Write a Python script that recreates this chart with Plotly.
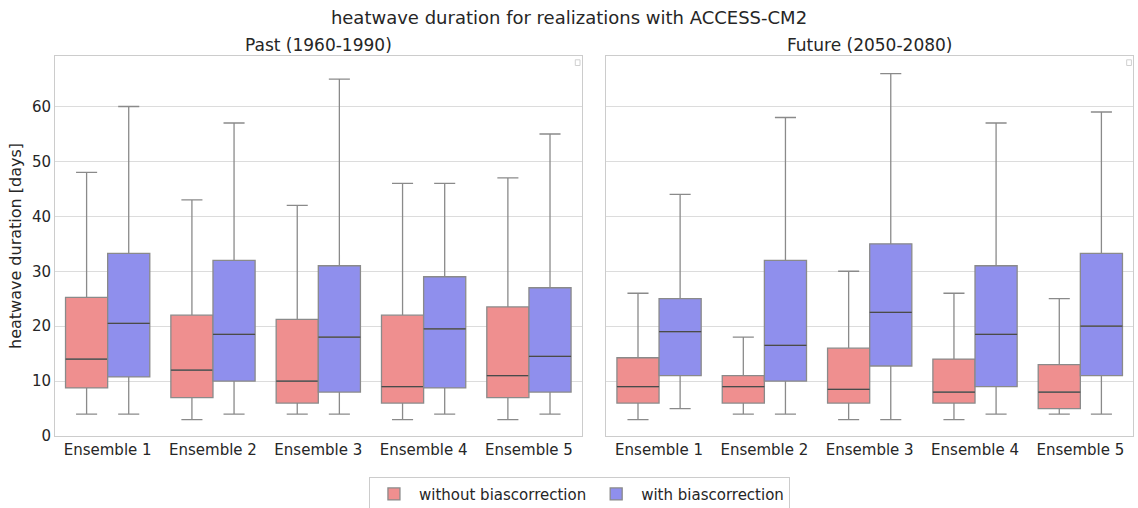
import plotly.graph_objects as go
from plotly.subplots import make_subplots

ensembles = ["Ensemble 1", "Ensemble 2", "Ensemble 3", "Ensemble 4", "Ensemble 5"]

# Past (1960-1990)
past_raw_lower = [4, 3, 4, 3, 3]
past_raw_q1 = [8.75, 7, 6, 6, 7]
past_raw_median = [14, 12, 10, 9, 11]
past_raw_q3 = [25.25, 22, 21.25, 22, 23.5]
past_raw_upper = [48, 43, 42, 46, 47]

past_bc_lower = [4, 4, 4, 4, 4]
past_bc_q1 = [10.75, 10, 8, 8.75, 8]
past_bc_median = [20.5, 18.5, 18, 19.5, 14.5]
past_bc_q3 = [33.25, 32, 31, 29, 27]
past_bc_upper = [60, 57, 65, 46, 55]

# Future (2050-2080)
fut_raw_lower = [3, 4, 3, 3, 4]
fut_raw_q1 = [6, 6, 6, 6, 5]
fut_raw_median = [9, 9, 8.5, 8, 8]
fut_raw_q3 = [14.25, 11, 16, 14, 13]
fut_raw_upper = [26, 18, 30, 26, 25]

fut_bc_lower = [5, 4, 3, 4, 4]
fut_bc_q1 = [11, 10, 12.75, 9, 11]
fut_bc_median = [19, 16.5, 22.5, 18.5, 20]
fut_bc_q3 = [25, 32, 35, 31, 33.25]
fut_bc_upper = [44, 58, 66, 57, 59]

RED = "rgb(239,143,143)"
BLUE = "rgb(143,143,237)"
LINE = "#8a8a8a"
MEDIAN = "#4a4a4a"
FONT = "DejaVu Sans"
TXT = "#262626"

fig = make_subplots(rows=1, cols=2, shared_yaxes=True, horizontal_spacing=0.023,
                    subplot_titles=("Past (1960-1990)", "Future (2050-2080)"))

def add_box(col, group, name, color, lower, q1, med, q3, upper, show):
    fig.add_trace(go.Box(
        x=ensembles, lowerfence=lower, q1=q1, median=med, q3=q3, upperfence=upper,
        name=name, legendgroup=name, showlegend=show,
        offsetgroup=name, alignmentgroup=group,
        fillcolor=color, line=dict(color=LINE, width=1.3),
        whiskerwidth=0.5, boxpoints=False, hoverinfo="y",
    ), row=1, col=col)
    # darker median line drawn on top (zero-height box at the median)
    fig.add_trace(go.Box(
        x=ensembles, lowerfence=med, q1=med, median=med, q3=med, upperfence=med,
        name=name, legendgroup=name, showlegend=False,
        offsetgroup=name, alignmentgroup=group,
        fillcolor="rgba(0,0,0,0)", line=dict(color=MEDIAN, width=1.3),
        whiskerwidth=0, boxpoints=False, hoverinfo="skip",
    ), row=1, col=col)

add_box(1, "past", "without biascorrection", RED, past_raw_lower, past_raw_q1, past_raw_median, past_raw_q3, past_raw_upper, True)
add_box(1, "past", "with biascorrection", BLUE, past_bc_lower, past_bc_q1, past_bc_median, past_bc_q3, past_bc_upper, True)
add_box(2, "future", "without biascorrection", RED, fut_raw_lower, fut_raw_q1, fut_raw_median, fut_raw_q3, fut_raw_upper, False)
add_box(2, "future", "with biascorrection", BLUE, fut_bc_lower, fut_bc_q1, fut_bc_median, fut_bc_q3, fut_bc_upper, False)

fig.update_layout(
    width=1138, height=508,
    margin=dict(l=55, r=5, t=56, b=72, autoexpand=False),
    paper_bgcolor="white", plot_bgcolor="white",
    boxmode="group", boxgap=0.2, boxgroupgap=0,
    font=dict(family=FONT, size=15, color=TXT),
    title=dict(text="heatwave duration for realizations with ACCESS-CM2",
               x=0.5, xanchor="center", y=0.966, yanchor="middle",
               font=dict(family=FONT, size=18, color=TXT)),
    legend=dict(orientation="h", x=0.4865, xanchor="center", y=-0.153, yanchor="middle",
                bordercolor="#cccccc", borderwidth=1, bgcolor="white",
                font=dict(family=FONT, size=15, color=TXT),
                itemwidth=40),
)

for ann in fig.layout.annotations:
    ann.font = dict(family=FONT, size=17, color=TXT)
    ann.y = 1.0
    ann.yshift = -1

fig.update_xaxes(showgrid=False, showline=True, linecolor="#cccccc", mirror=True,
                 ticks="", tickfont=dict(size=15, color=TXT))
fig.update_yaxes(range=[0, 69.2], dtick=10, showgrid=True, gridcolor="#dcdcdc",
                 showline=True, linecolor="#cccccc", mirror=True, zeroline=False,
                 ticks="", tickfont=dict(size=15, color=TXT))
fig.update_yaxes(title=dict(text="heatwave duration [days]", font=dict(size=16, color=TXT),
                            standoff=6), row=1, col=1)

# tiny empty-legend squares in top-right corners of each panel
for xr in ("x domain", "x2 domain"):
    fig.add_shape(type="rect", xref=xr, yref="y domain",
                  x0=0.988, x1=0.997, y0=0.975, y1=0.99,
                  line=dict(color="#d0d0d0", width=1), fillcolor="white")

fig.write_html("out.html")
